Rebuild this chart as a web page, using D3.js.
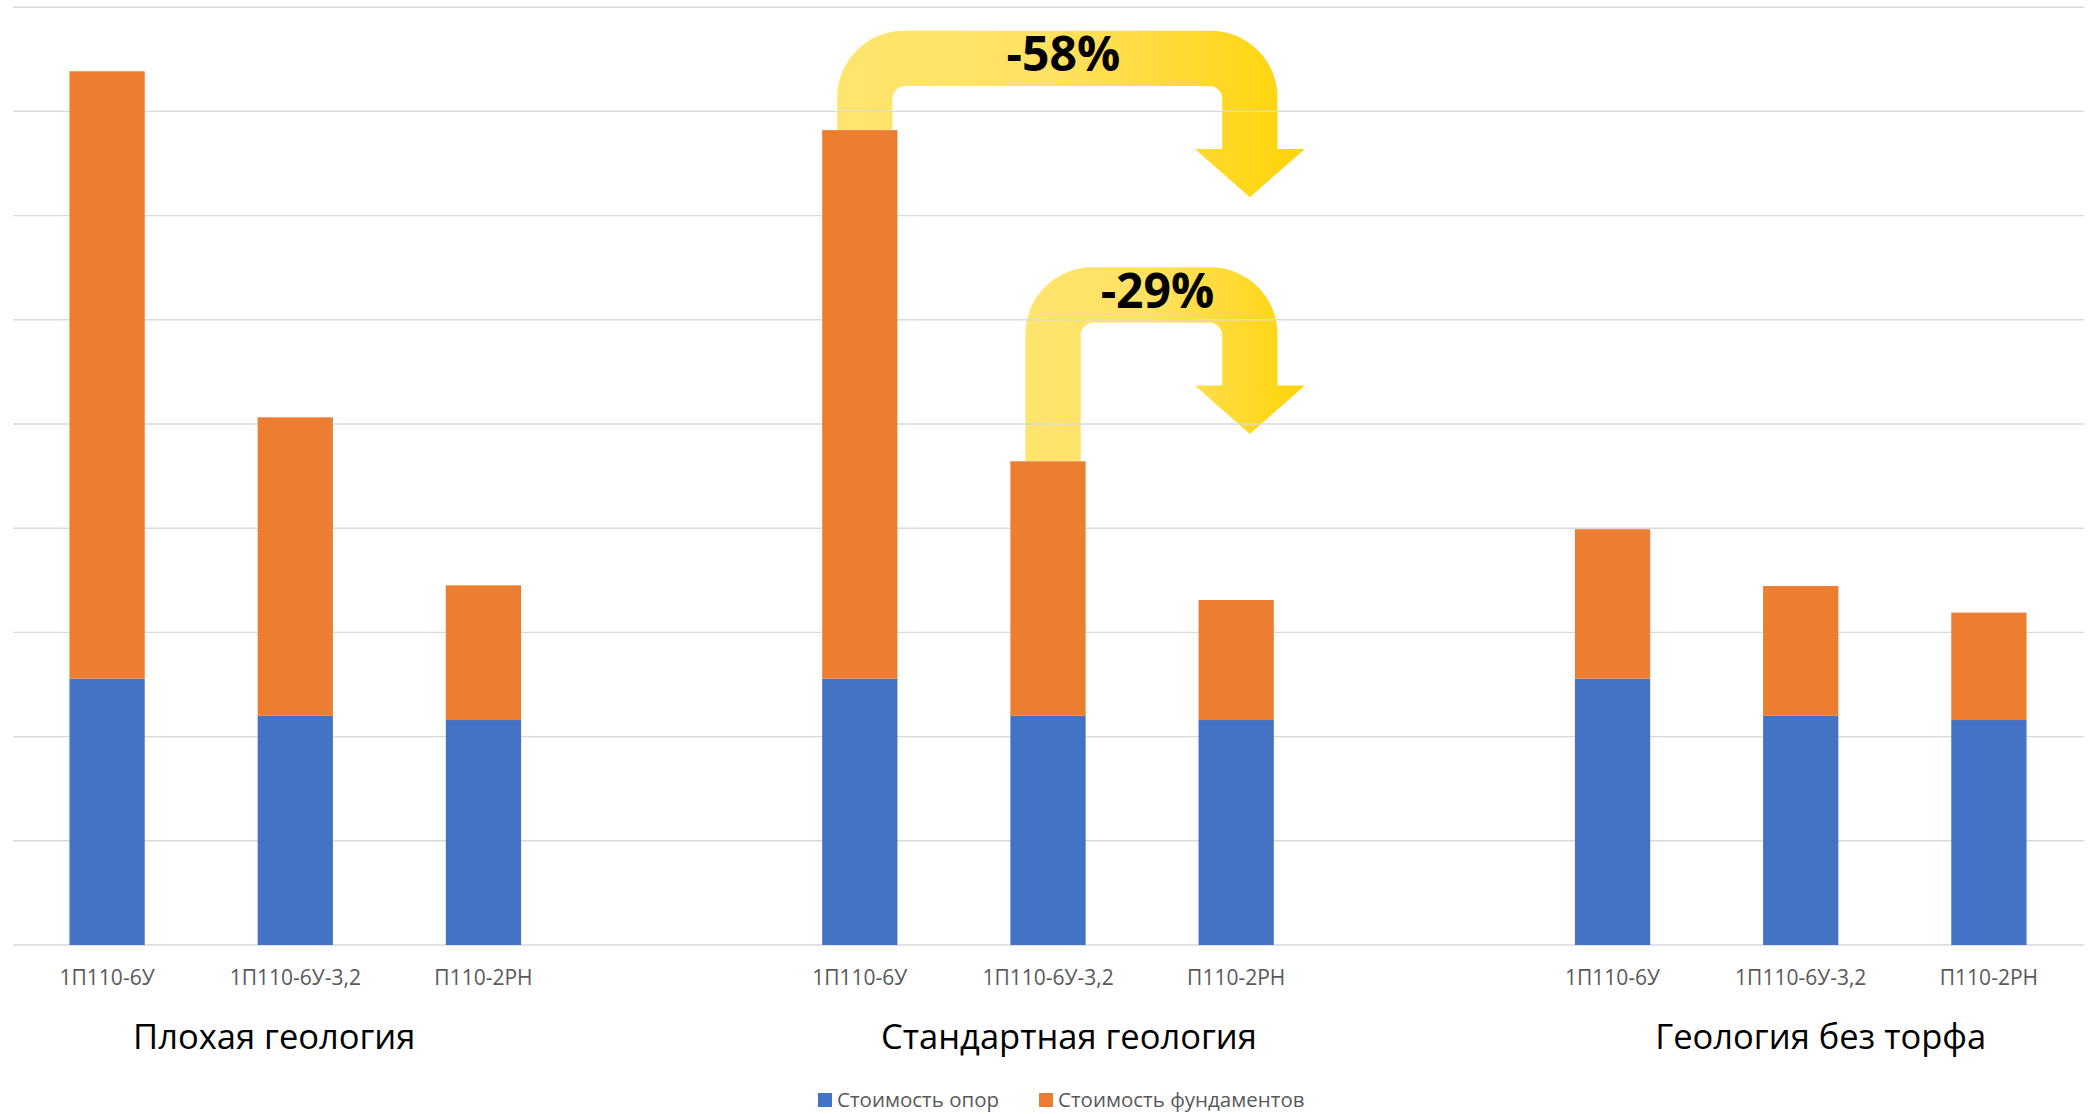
<!DOCTYPE html>
<html>
<head>
<meta charset="utf-8">
<script src="https://cdn.jsdelivr.net/npm/d3@7"></script>
<style>
  html, body { margin: 0; padding: 0; background: #fff; }
  svg { display: block; font-family: "Open Sans", "Noto Sans", sans-serif; }
</style>
</head>
<body>
<svg id="chart" width="2088" height="1114"></svg>
<script>
// Geology scenarios and tower types
const groups = ["Плохая геология", "Стандартная геология", "Геология без торфа"];
const towerTypes = ["1П110-6У", "1П110-6У-3,2", "П110-2РН"];

// Cost per tower type, in gridline units (group by group)
const supportCost =    [2.556, 2.200, 2.159,  2.556, 2.200, 2.159,  2.556, 2.200, 2.159];
const foundationCost = [5.829, 2.864, 1.293,  5.264, 2.442, 1.152,  1.434, 1.245, 1.031];

const seriesNames = ["Стоимость опор", "Стоимость фундаментов"];
const seriesColors = ["#4472C4", "#ED7D31"];

const yTicks = [0, 1, 2, 3, 4, 5, 6, 7, 8, 9];

// Savings arrows: from one tower type to another inside "Стандартная геология"
const savings = [
  { group: 1, from: 0, to: 2, level: 8.775 },
  { group: 1, from: 1, to: 2, level: 6.504 }
];

// ---- layout ----
const plot = { left: 13, right: 2083, top: 7.2, bottom: 945 };
const svg = d3.select("#chart");

// One slot per tower type, plus an empty slot between scenarios
const slots = [];
groups.forEach((g, gi) => {
  towerTypes.forEach((t, ti) => slots.push({ key: gi + "|" + ti, group: gi, type: ti, idx: gi * 3 + ti }));
  if (gi < groups.length - 1) slots.push({ key: "gap" + gi, gap: true });
});

const x = d3.scaleBand()
  .domain(slots.map(s => s.key))
  .range([plot.left, plot.right])
  .paddingInner(0.6)
  .paddingOuter(0.3);

const y = d3.scaleLinear().domain([0, 9]).range([plot.bottom, plot.top]);

const bars = slots.filter(s => !s.gap).map(s => ({
  ...s,
  support: supportCost[s.idx],
  foundation: foundationCost[s.idx]
}));
const stack = d3.stack().keys(["support", "foundation"])(bars);
const cx = (gi, ti) => x(gi + "|" + ti) + x.bandwidth() / 2;
const total = (gi, ti) => supportCost[gi * 3 + ti] + foundationCost[gi * 3 + ti];

// ---- savings arrows (behind the grid and bars) ----
const defs = svg.append("defs");
const grad = defs.append("linearGradient").attr("id", "arrowFill")
  .attr("x1", "0%").attr("x2", "100%").attr("y1", "0%").attr("y2", "0%");
grad.append("stop").attr("offset", "0%").attr("stop-color", "#FFE46E");
grad.append("stop").attr("offset", "45%").attr("stop-color", "#FFE163");
grad.append("stop").attr("offset", "100%").attr("stop-color", "#FFD408");

const thick = 55.3, R = 67, r = 13, headHalf = 55;
function arrowPath(xl0, xc, yTop, yBottom) {
  const xl1 = xl0 + thick;
  const xr0 = xc - thick / 2, xr1 = xc + thick / 2;
  const headBase = yTop + 118.3, tip = yTop + 166.6;
  const p = d3.path();
  p.moveTo(xl0, yBottom);
  p.lineTo(xl0, yTop + R);
  p.arcTo(xl0, yTop, xl0 + R, yTop, R);
  p.lineTo(xr1 - R, yTop);
  p.arcTo(xr1, yTop, xr1, yTop + R, R);
  p.lineTo(xr1, headBase);
  p.lineTo(xc + headHalf, headBase);
  p.lineTo(xc, tip);
  p.lineTo(xc - headHalf, headBase);
  p.lineTo(xr0, headBase);
  p.lineTo(xr0, yTop + thick + r);
  p.arcTo(xr0, yTop + thick, xr0 - r, yTop + thick, r);
  p.lineTo(xl1 + r, yTop + thick);
  p.arcTo(xl1, yTop + thick, xl1, yTop + thick + r, r);
  p.lineTo(xl1, yBottom);
  p.closePath();
  return p.toString();
}

const arrows = svg.append("g").attr("class", "savings");
savings.forEach(s => {
  const xl0 = cx(s.group, s.from) + 5 - thick / 2;
  const xc = cx(s.group, s.to) + 13.7;
  const yTop = y(s.level);
  const yBottom = y(total(s.group, s.from));
  arrows.append("path")
    .attr("d", arrowPath(xl0, xc, yTop, yBottom))
    .attr("fill", "url(#arrowFill)");
  const pct = Math.round((total(s.group, s.to) / total(s.group, s.from) - 1) * 100);
  arrows.append("text")
    .attr("x", (xl0 + xc + thick / 2) / 2 + 6)
    .attr("y", yTop + 40.5)
    .attr("text-anchor", "middle")
    .attr("font-size", 48)
    .attr("font-weight", 700)
    .attr("fill", "#000")
    .text((pct > 0 ? "+" : "") + pct + "%");
});

// ---- gridlines ----
svg.append("g").attr("class", "grid")
  .selectAll("line").data(yTicks).join("line")
  .attr("x1", plot.left).attr("x2", plot.right + 1)
  .attr("y1", d => y(d)).attr("y2", d => y(d))
  .attr("stroke", "#D9D9D9").attr("stroke-width", 1.4);

// ---- stacked bars ----
svg.append("g").attr("class", "bars")
  .selectAll("g").data(stack).join("g")
  .attr("fill", (d, i) => seriesColors[i])
  .selectAll("rect").data(d => d).join("rect")
  .attr("x", d => x(d.data.key))
  .attr("width", x.bandwidth())
  .attr("y", d => y(d[1]))
  .attr("height", d => y(d[0]) - y(d[1]));

// ---- category axis: tower types ----
const xAxis = d3.axisBottom(x)
  .tickValues(bars.map(b => b.key))
  .tickFormat(k => towerTypes[+k.split("|")[1]])
  .tickSize(0)
  .tickPadding(0);
const axisG = svg.append("g").attr("transform", `translate(0,${plot.bottom})`).call(xAxis);
axisG.select(".domain").remove();
axisG.selectAll("text")
  .attr("dy", null).attr("y", 40)
  .attr("font-family", "'Open Sans', 'Noto Sans', sans-serif")
  .attr("font-size", 21)
  .attr("fill", "#595959");

// ---- scenario labels ----
const groupLabelShift = [-21, 21, 20];
svg.append("g").attr("class", "groups")
  .selectAll("text").data(groups).join("text")
  .attr("x", (g, i) => cx(i, 1) + groupLabelShift[i])
  .attr("y", 1049)
  .attr("text-anchor", "middle")
  .attr("font-size", 34.5)
  .attr("fill", "#000")
  .text(d => d);

// ---- legend ----
const legend = svg.append("g").attr("class", "legend");
const legendX = [818, 1039];
seriesNames.forEach((name, i) => {
  const g = legend.append("g").attr("transform", `translate(${legendX[i]},1093)`);
  g.append("rect").attr("width", 14).attr("height", 14).attr("fill", seriesColors[i]);
  g.append("text").attr("x", 19).attr("y", 14)
    .attr("font-size", 20.5).attr("fill", "#595959").text(name);
});
</script>
</body>
</html>
